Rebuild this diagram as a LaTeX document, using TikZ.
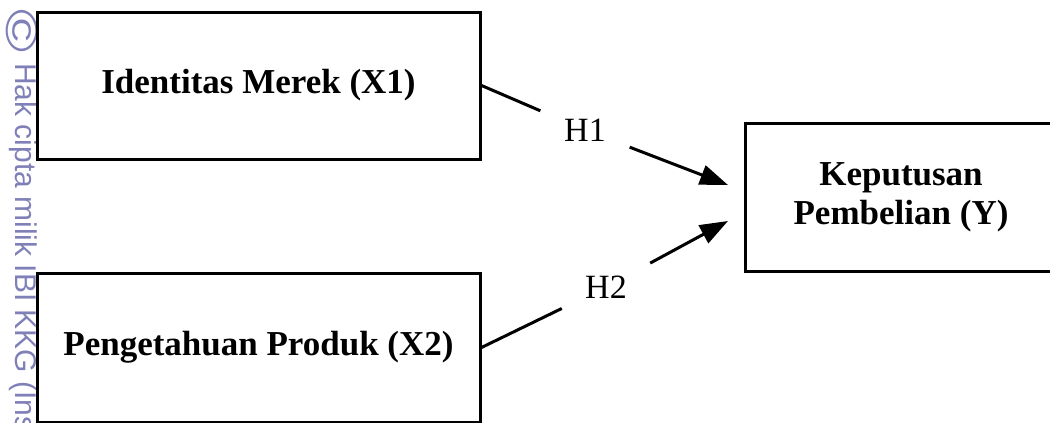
\documentclass[tikz,border=0pt]{standalone}
\usepackage{fontspec}
\setmainfont{Liberation Serif}
\newfontfamily\wmfont{Liberation Sans}
\usetikzlibrary{arrows.meta}
\definecolor{wmblue}{RGB}{128,128,184}
\begin{document}
\begin{tikzpicture}[x=1pt,y=-1pt,
  box/.style={draw, line width=3pt, inner sep=0pt, align=center,
    font=\fontsize{35}{39}\selectfont\bfseries},
  hyp/.style={inner sep=0pt, font=\fontsize{34}{40}\selectfont},
  link/.style={line width=3pt},
  arr/.style={link, -{Triangle[length=28pt,width=20pt]}},
  wmtext/.style={text=wmblue, inner sep=0pt, rotate=-90}
]
\useasboundingbox (0,0) rectangle (1050,423);

% copyright watermark along the left edge
\node[wmtext, font=\wmfont\fontsize{45}{45}\selectfont] (wmc) at (22,31) {\scalebox{1.3}[1]{©}};
\node[wmtext, anchor=base west, font=\wmfont\fontsize{30}{30}\selectfont] (wm) at (15,63) {Hak cipta milik IBI KKG (Ins};

% variables
\node[box, minimum width=443pt, minimum height=147pt] (b1) at (258.5,85.5) {Identitas Merek (X1)};
\node[box, minimum width=443pt, minimum height=149pt] (b2) at (258.5,347.5) {Pengetahuan Produk (X2)};
\node[box, minimum width=312pt, minimum height=148pt] (b3) at (901,197) {Keputusan\\Pembelian (Y)};

% hypothesis labels
\node[hyp, minimum width=89pt, minimum height=38pt] (h1) at (585,130) {H1};
\node[hyp, minimum width=88pt, minimum height=50pt] (h2) at (606,287) {H2};

% arrow end points just left of the dependent variable
\coordinate (t1) at (728,185);
\coordinate (t2) at (728,221);

\draw[link] (b1.east) -- (h1);
\draw[arr] (h1) -- (t1);
\draw[link] (b2.east) -- (h2);
\draw[arr] (h2) -- (t2);
\end{tikzpicture}
\end{document}
